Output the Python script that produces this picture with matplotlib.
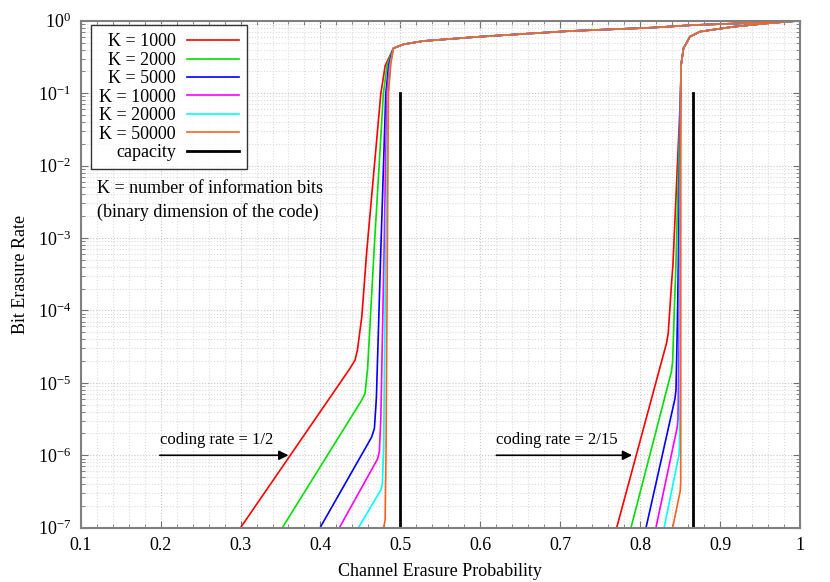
import numpy as np
import matplotlib
matplotlib.use("Agg")
import matplotlib.pyplot as plt
from matplotlib.ticker import MultipleLocator, LogLocator

plt.rcParams['font.family'] = ['Liberation Serif', 'DejaVu Serif']
plt.rcParams['mathtext.fontset'] = 'custom'
plt.rcParams['mathtext.rm'] = 'Liberation Serif'
plt.rcParams['mathtext.it'] = 'Liberation Serif:italic'

# legend labels and colours
k_labels = ['K = 1000', 'K = 2000', 'K = 5000', 'K = 10000', 'K = 20000', 'K = 50000']
k_colors = ['#ff0000', '#00e000', '#0000ff', '#ff00ff', '#00ffff', '#ff6020']

# rate 1/2: per-K lower part (erasure prob, log10 BER)
r12_lower_x = [
    [0.300, 0.437, 0.4433, 0.4462, 0.4517, 0.458, 0.4755, 0.481],
    [0.3523, 0.451, 0.4558, 0.459, 0.4671, 0.4787, 0.4835],
    [0.3995, 0.464, 0.4675, 0.470, 0.4755, 0.4817, 0.4855],
    [0.4237, 0.4715, 0.4737, 0.4755, 0.4796, 0.4830, 0.4865],
    [0.4475, 0.476, 0.4775, 0.4790, 0.4817, 0.4845, 0.4875],
    [0.4787, 0.4800, 0.4809, 0.4820, 0.4837, 0.4850, 0.4880],
]
r12_lower_y = [
    [-7.0, -4.80, -4.685, -4.55, -4.09, -3.17, -1.01, -0.62],
    [-7.0, -5.25, -5.144, -4.80, -3.17, -1.01, -0.60],
    [-7.0, -5.75, -5.628, -5.20, -3.17, -1.01, -0.60],
    [-7.0, -6.05, -5.95, -5.50, -3.17, -1.01, -0.60],
    [-7.0, -6.47, -6.39, -5.90, -3.17, -1.01, -0.60],
    [-7.0, -6.95, -6.89, -6.00, -3.17, -1.01, -0.60],
]
# rate 1/2: common upper part
r12_upper_x = [0.4913, 0.5038, 0.5288, 0.5998, 0.7124, 0.8126, 0.8667, 0.94, 1.0]
r12_upper_y = [-0.38, -0.326, -0.28, -0.22, -0.142, -0.097, -0.06, -0.03, 0.0]

# rate 2/15: per-K lower part
r215_lower_x = [
    [0.7706, 0.833, 0.8351, 0.8394, 0.8410, 0.8506],
    [0.7885, 0.839, 0.8406, 0.8430, 0.8447, 0.8506],
    [0.8073, 0.8435, 0.8448, 0.8465, 0.8477, 0.8506],
    [0.8197, 0.8462, 0.8473, 0.8485, 0.8490, 0.8506],
    [0.8300, 0.8484, 0.8492, 0.8497, 0.8500, 0.8506],
    [0.8406, 0.8500, 0.8507, 0.8508, 0.8508, 0.8508],
]
r215_lower_y = [
    [-7.0, -4.45, -4.316, -3.60, -3.37, -1.0],
    [-7.0, -4.85, -4.708, -3.90, -3.37, -1.0],
    [-7.0, -5.22, -5.099, -4.20, -3.37, -1.0],
    [-7.0, -5.62, -5.51, -4.50, -3.37, -1.0],
    [-7.0, -6.00, -5.88, -4.80, -3.37, -1.0],
    [-7.0, -6.50, -6.39, -5.50, -3.37, -1.0],
]
# rate 2/15: common upper part
r215_upper_x = [0.8512, 0.8542, 0.8623, 0.875, 0.9168, 0.9586, 1.0]
r215_upper_y = [-0.61, -0.38, -0.22, -0.15, -0.083, -0.036, 0.0]

capacities = [0.5, 1 - 2 / 15]

fig = plt.figure(figsize=(8.3, 5.82), dpi=100)
ax = fig.add_axes([0.0972, 0.0933, 0.8667, 0.8711])

for i in range(len(k_labels)):
    x1 = np.array(r12_lower_x[i] + r12_upper_x)
    y1 = 10 ** np.array(r12_lower_y[i] + r12_upper_y)
    x2 = np.array(r215_lower_x[i] + r215_upper_x)
    y2 = 10 ** np.array(r215_lower_y[i] + r215_upper_y)
    ax.plot(x1, y1, color=k_colors[i], lw=1.2, label=k_labels[i])
    ax.plot(x2, y2, color=k_colors[i], lw=1.2)

for j, c in enumerate(capacities):
    ax.plot([c, c], [1e-7, 1e-1], color='black', lw=2,
            label='capacity' if j == 0 else None)

ax.set_yscale('log')
ax.set_xlim(0.1, 1.0)
ax.set_ylim(1e-7, 1)
ax.xaxis.set_minor_locator(MultipleLocator(0.02))
ax.yaxis.set_major_locator(LogLocator(base=10, numticks=10))
ax.yaxis.set_minor_locator(LogLocator(base=10, subs=np.arange(2, 10), numticks=20))
ax.set_xticks(np.arange(0.1, 1.01, 0.1))
ax.set_xticklabels(['0.1', '0.2', '0.3', '0.4', '0.5', '0.6', '0.7', '0.8', '0.9', '1'])

ax.grid(which='major', color='#c8c8c8', linestyle=':', lw=0.8)
ax.grid(which='minor', color='#dcdcdc', linestyle=':', lw=0.8)
ax.tick_params(which='both', direction='in', top=True, right=True,
               color='#707070', labelsize=13, pad=7)
ax.tick_params(which='major', length=5)
ax.tick_params(which='minor', length=3)
for s in ax.spines.values():
    s.set_color('#808080')
    s.set_linewidth(1.5)

ax.set_xlabel('Channel Erasure Probability', fontsize=13, labelpad=6)
ax.set_ylabel('Bit Erasure Rate', fontsize=13, labelpad=6)

leg = ax.legend(loc='upper left', bbox_to_anchor=(0.0143, 0.991), markerfirst=False,
                fontsize=13, frameon=True, fancybox=False, handlelength=2.9,
                borderpad=0.45, labelspacing=0.08, handletextpad=0.6,
                borderaxespad=0)
leg.get_frame().set_edgecolor('black')
leg.get_frame().set_linewidth(1.0)
for t in leg.get_texts():
    t.set_ha('right')

ax.text(0.121, 10 ** -2.31, 'K = number of information bits', fontsize=13, va='center')
ax.text(0.121, 10 ** -2.64, '(binary dimension of the code)', fontsize=13, va='center')

ax.text(0.199, 10 ** -5.79, 'coding rate = 1/2', fontsize=12, va='center')
ax.annotate('', xy=(0.36, 1e-6), xytext=(0.199, 1e-6),
            arrowprops=dict(arrowstyle='-|>', color='black', lw=1.2,
                            mutation_scale=14, shrinkA=0, shrinkB=0))
ax.text(0.62, 10 ** -5.79, 'coding rate = 2/15', fontsize=12, va='center')
ax.annotate('', xy=(0.79, 1e-6), xytext=(0.62, 1e-6),
            arrowprops=dict(arrowstyle='-|>', color='black', lw=1.2,
                            mutation_scale=14, shrinkA=0, shrinkB=0))

fig.savefig('out.png', dpi=100)
